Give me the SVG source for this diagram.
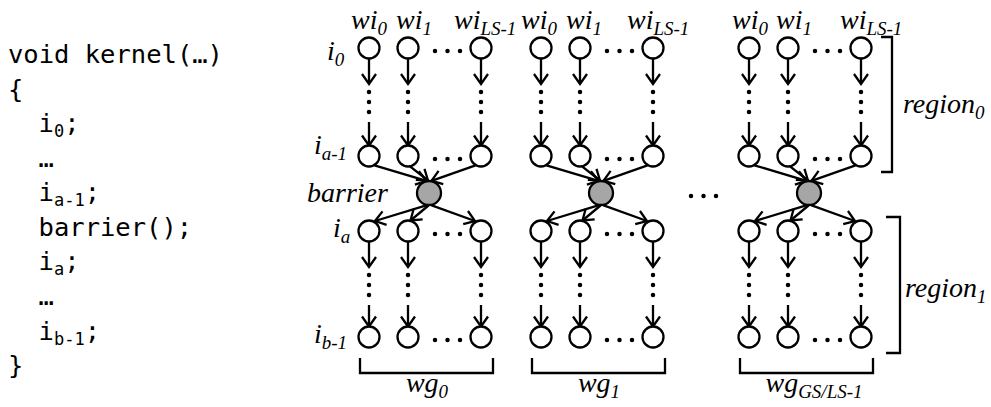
<svg xmlns="http://www.w3.org/2000/svg" width="991" height="407" viewBox="0 0 991 407">
  <style>
    .node circle { fill: #fff; stroke: #000; stroke-width: 2.3; }
    .barrier circle { fill: #a6a6a6; stroke: #000; stroke-width: 2.3; }
    .arrow { stroke: #000; stroke-width: 2.3; fill: none; marker-end: url(#head); }
    .vdots { stroke: #000; stroke-width: 4.5; stroke-linecap: round; stroke-dasharray: 0 10; }
    .hdots { stroke: #000; stroke-width: 4.5; stroke-linecap: round; stroke-dasharray: 0 12.5; }
    .bracket { stroke: #000; stroke-width: 2.3; fill: none; }
    .lbl { font-family: "Liberation Serif", "Times New Roman", serif; font-style: italic; font-size: 28px; fill: #000; }
    .sub { font-size: 19px; }
    .code { font-family: "DejaVu Sans Mono", "Liberation Mono", monospace; font-size: 25.5px; fill: #000; }
    .csub { font-size: 17px; }
  </style>
  <defs>
    <marker id="head" markerUnits="userSpaceOnUse" viewBox="-13 -9 15 18" markerWidth="15" markerHeight="18" refX="0" refY="0" orient="auto" overflow="visible">
      <path d="M-10,-7 L0,0 L-10,7" fill="none" stroke="#000" stroke-width="2.3"/>
    </marker>
  </defs>

  <!-- kernel source -->
  <g id="code">
    <text class="code" x="8" y="63">void kernel(…)</text>
    <text class="code" x="8" y="97.6">{</text>
    <text class="code" x="38.6" y="132">i<tspan class="csub" dy="5">0</tspan><tspan dy="-5">;</tspan></text>
    <text class="code" x="38.6" y="167">…</text>
    <text class="code" x="38.6" y="201">i<tspan class="csub" dy="5">a-1</tspan><tspan dy="-5">;</tspan></text>
    <text class="code" x="38.6" y="236">barrier();</text>
    <text class="code" x="38.6" y="270">i<tspan class="csub" dy="5">a</tspan><tspan dy="-5">;</tspan></text>
    <text class="code" x="38.6" y="305">…</text>
    <text class="code" x="38.6" y="340">i<tspan class="csub" dy="5">b-1</tspan><tspan dy="-5">;</tspan></text>
    <text class="code" x="8" y="374">}</text>
  </g>

  <!-- connectors -->
  <g id="connectors">
    <!-- vertical instruction chains, one per work item -->
    <g id="chains">
      <line class="arrow" x1="369" y1="58.5" x2="369" y2="84"/><line class="vdots" x1="369" y1="92" x2="369" y2="113"/><line class="arrow" x1="369" y1="122" x2="369" y2="145.5"/>
      <line class="arrow" x1="408" y1="58.5" x2="408" y2="84"/><line class="vdots" x1="408" y1="92" x2="408" y2="113"/><line class="arrow" x1="408" y1="122" x2="408" y2="145.5"/>
      <line class="arrow" x1="481" y1="58.5" x2="481" y2="84"/><line class="vdots" x1="481" y1="92" x2="481" y2="113"/><line class="arrow" x1="481" y1="122" x2="481" y2="145.5"/>
      <line class="arrow" x1="541" y1="58.5" x2="541" y2="84"/><line class="vdots" x1="541" y1="92" x2="541" y2="113"/><line class="arrow" x1="541" y1="122" x2="541" y2="145.5"/>
      <line class="arrow" x1="580" y1="58.5" x2="580" y2="84"/><line class="vdots" x1="580" y1="92" x2="580" y2="113"/><line class="arrow" x1="580" y1="122" x2="580" y2="145.5"/>
      <line class="arrow" x1="653" y1="58.5" x2="653" y2="84"/><line class="vdots" x1="653" y1="92" x2="653" y2="113"/><line class="arrow" x1="653" y1="122" x2="653" y2="145.5"/>
      <line class="arrow" x1="749" y1="58.5" x2="749" y2="84"/><line class="vdots" x1="749" y1="92" x2="749" y2="113"/><line class="arrow" x1="749" y1="122" x2="749" y2="145.5"/>
      <line class="arrow" x1="788" y1="58.5" x2="788" y2="84"/><line class="vdots" x1="788" y1="92" x2="788" y2="113"/><line class="arrow" x1="788" y1="122" x2="788" y2="145.5"/>
      <line class="arrow" x1="861" y1="58.5" x2="861" y2="84"/><line class="vdots" x1="861" y1="92" x2="861" y2="113"/><line class="arrow" x1="861" y1="122" x2="861" y2="145.5"/>

      <line class="arrow" x1="369" y1="241.5" x2="369" y2="267"/><line class="vdots" x1="369" y1="275" x2="369" y2="296"/><line class="arrow" x1="369" y1="305" x2="369" y2="326.5"/>
      <line class="arrow" x1="408" y1="241.5" x2="408" y2="267"/><line class="vdots" x1="408" y1="275" x2="408" y2="296"/><line class="arrow" x1="408" y1="305" x2="408" y2="326.5"/>
      <line class="arrow" x1="481" y1="241.5" x2="481" y2="267"/><line class="vdots" x1="481" y1="275" x2="481" y2="296"/><line class="arrow" x1="481" y1="305" x2="481" y2="326.5"/>
      <line class="arrow" x1="541" y1="241.5" x2="541" y2="267"/><line class="vdots" x1="541" y1="275" x2="541" y2="296"/><line class="arrow" x1="541" y1="305" x2="541" y2="326.5"/>
      <line class="arrow" x1="580" y1="241.5" x2="580" y2="267"/><line class="vdots" x1="580" y1="275" x2="580" y2="296"/><line class="arrow" x1="580" y1="305" x2="580" y2="326.5"/>
      <line class="arrow" x1="653" y1="241.5" x2="653" y2="267"/><line class="vdots" x1="653" y1="275" x2="653" y2="296"/><line class="arrow" x1="653" y1="305" x2="653" y2="326.5"/>
      <line class="arrow" x1="749" y1="241.5" x2="749" y2="267"/><line class="vdots" x1="749" y1="275" x2="749" y2="296"/><line class="arrow" x1="749" y1="305" x2="749" y2="326.5"/>
      <line class="arrow" x1="788" y1="241.5" x2="788" y2="267"/><line class="vdots" x1="788" y1="275" x2="788" y2="296"/><line class="arrow" x1="788" y1="305" x2="788" y2="326.5"/>
      <line class="arrow" x1="861" y1="241.5" x2="861" y2="267"/><line class="vdots" x1="861" y1="275" x2="861" y2="296"/><line class="arrow" x1="861" y1="305" x2="861" y2="326.5"/>
    </g>
    <!-- fan-in to and fan-out from each barrier -->
    <g id="barrier-edges">
      <line class="arrow" x1="374.5" y1="165.3" x2="426.5" y2="180.8"/>
      <line class="arrow" x1="410" y1="166.3" x2="428" y2="180.5"/>
      <line class="arrow" x1="475.5" y1="165.3" x2="431.5" y2="180.8"/>
      <line class="arrow" x1="427" y1="205.2" x2="375" y2="221"/>
      <line class="arrow" x1="428.5" y1="205.5" x2="410.5" y2="220.5"/>
      <line class="arrow" x1="431" y1="205.2" x2="475" y2="221"/>

      <line class="arrow" x1="546.5" y1="165.3" x2="598.5" y2="180.8"/>
      <line class="arrow" x1="582" y1="166.3" x2="600" y2="180.5"/>
      <line class="arrow" x1="647.5" y1="165.3" x2="603.5" y2="180.8"/>
      <line class="arrow" x1="599" y1="205.2" x2="547" y2="221"/>
      <line class="arrow" x1="600.5" y1="205.5" x2="582.5" y2="220.5"/>
      <line class="arrow" x1="603" y1="205.2" x2="647" y2="221"/>

      <line class="arrow" x1="754.5" y1="165.3" x2="806.5" y2="180.8"/>
      <line class="arrow" x1="790" y1="166.3" x2="808" y2="180.5"/>
      <line class="arrow" x1="855.5" y1="165.3" x2="811.5" y2="180.8"/>
      <line class="arrow" x1="807" y1="205.2" x2="755" y2="221"/>
      <line class="arrow" x1="808.5" y1="205.5" x2="790.5" y2="220.5"/>
      <line class="arrow" x1="811" y1="205.2" x2="855" y2="221"/>
    </g>
  </g>

  <!-- elided work items and work groups -->
  <g id="ellipses">
    <line class="hdots" x1="435" y1="51" x2="461" y2="51"/><line class="hdots" x1="435" y1="159" x2="461" y2="159"/>
    <line class="hdots" x1="435" y1="234" x2="461" y2="234"/><line class="hdots" x1="435" y1="340" x2="461" y2="340"/>
    <line class="hdots" x1="607" y1="51" x2="633" y2="51"/><line class="hdots" x1="607" y1="159" x2="633" y2="159"/>
    <line class="hdots" x1="607" y1="234" x2="633" y2="234"/><line class="hdots" x1="607" y1="340" x2="633" y2="340"/>
    <line class="hdots" x1="815" y1="51" x2="841" y2="51"/><line class="hdots" x1="815" y1="159" x2="841" y2="159"/>
    <line class="hdots" x1="815" y1="234" x2="841" y2="234"/><line class="hdots" x1="815" y1="340" x2="841" y2="340"/>
    <line class="hdots" x1="691" y1="196" x2="717" y2="196"/>
  </g>

  <!-- work-item nodes: wg0 -->
  <g id="wg0-wi0-i0" class="node"><circle cx="369" cy="48" r="10.5"/></g>
  <g id="wg0-wi1-i0" class="node"><circle cx="408" cy="48" r="10.5"/></g>
  <g id="wg0-wiLS-i0" class="node"><circle cx="481" cy="48" r="10.5"/></g>
  <g id="wg0-wi0-ia1" class="node"><circle cx="369" cy="156" r="10.5"/></g>
  <g id="wg0-wi1-ia1" class="node"><circle cx="408" cy="156" r="10.5"/></g>
  <g id="wg0-wiLS-ia1" class="node"><circle cx="481" cy="156" r="10.5"/></g>
  <g id="wg0-barrier" class="barrier"><circle cx="429" cy="193" r="12"/></g>
  <g id="wg0-wi0-ia" class="node"><circle cx="369" cy="231" r="10.5"/></g>
  <g id="wg0-wi1-ia" class="node"><circle cx="408" cy="231" r="10.5"/></g>
  <g id="wg0-wiLS-ia" class="node"><circle cx="481" cy="231" r="10.5"/></g>
  <g id="wg0-wi0-ib1" class="node"><circle cx="369" cy="337" r="10.5"/></g>
  <g id="wg0-wi1-ib1" class="node"><circle cx="408" cy="337" r="10.5"/></g>
  <g id="wg0-wiLS-ib1" class="node"><circle cx="481" cy="337" r="10.5"/></g>

  <!-- wg1 -->
  <g id="wg1-wi0-i0" class="node"><circle cx="541" cy="48" r="10.5"/></g>
  <g id="wg1-wi1-i0" class="node"><circle cx="580" cy="48" r="10.5"/></g>
  <g id="wg1-wiLS-i0" class="node"><circle cx="653" cy="48" r="10.5"/></g>
  <g id="wg1-wi0-ia1" class="node"><circle cx="541" cy="156" r="10.5"/></g>
  <g id="wg1-wi1-ia1" class="node"><circle cx="580" cy="156" r="10.5"/></g>
  <g id="wg1-wiLS-ia1" class="node"><circle cx="653" cy="156" r="10.5"/></g>
  <g id="wg1-barrier" class="barrier"><circle cx="601" cy="193" r="12"/></g>
  <g id="wg1-wi0-ia" class="node"><circle cx="541" cy="231" r="10.5"/></g>
  <g id="wg1-wi1-ia" class="node"><circle cx="580" cy="231" r="10.5"/></g>
  <g id="wg1-wiLS-ia" class="node"><circle cx="653" cy="231" r="10.5"/></g>
  <g id="wg1-wi0-ib1" class="node"><circle cx="541" cy="337" r="10.5"/></g>
  <g id="wg1-wi1-ib1" class="node"><circle cx="580" cy="337" r="10.5"/></g>
  <g id="wg1-wiLS-ib1" class="node"><circle cx="653" cy="337" r="10.5"/></g>

  <!-- wg GS/LS-1 -->
  <g id="wgN-wi0-i0" class="node"><circle cx="749" cy="48" r="10.5"/></g>
  <g id="wgN-wi1-i0" class="node"><circle cx="788" cy="48" r="10.5"/></g>
  <g id="wgN-wiLS-i0" class="node"><circle cx="861" cy="48" r="10.5"/></g>
  <g id="wgN-wi0-ia1" class="node"><circle cx="749" cy="156" r="10.5"/></g>
  <g id="wgN-wi1-ia1" class="node"><circle cx="788" cy="156" r="10.5"/></g>
  <g id="wgN-wiLS-ia1" class="node"><circle cx="861" cy="156" r="10.5"/></g>
  <g id="wgN-barrier" class="barrier"><circle cx="809" cy="193" r="12"/></g>
  <g id="wgN-wi0-ia" class="node"><circle cx="749" cy="231" r="10.5"/></g>
  <g id="wgN-wi1-ia" class="node"><circle cx="788" cy="231" r="10.5"/></g>
  <g id="wgN-wiLS-ia" class="node"><circle cx="861" cy="231" r="10.5"/></g>
  <g id="wgN-wi0-ib1" class="node"><circle cx="749" cy="337" r="10.5"/></g>
  <g id="wgN-wi1-ib1" class="node"><circle cx="788" cy="337" r="10.5"/></g>
  <g id="wgN-wiLS-ib1" class="node"><circle cx="861" cy="337" r="10.5"/></g>

  <!-- brackets -->
  <g id="brackets">
    <path class="bracket" d="M360,358 V373 H493 V358"/>
    <path class="bracket" d="M532,358 V373 H665 V358"/>
    <path class="bracket" d="M740,358 V373 H873 V358"/>
    <path class="bracket" d="M881,37 H892 V172 H881"/>
    <path class="bracket" d="M886,217 H900 V353 H886"/>
  </g>

  <!-- labels -->
  <g id="labels">
    <text class="lbl" x="351" y="29">wi<tspan class="sub" dy="6">0</tspan></text>
    <text class="lbl" x="396" y="29">wi<tspan class="sub" dy="6">1</tspan></text>
    <text class="lbl" x="454" y="29">wi<tspan class="sub" dy="6">LS-1</tspan></text>
    <text class="lbl" x="521" y="29">wi<tspan class="sub" dy="6">0</tspan></text>
    <text class="lbl" x="566" y="29">wi<tspan class="sub" dy="6">1</tspan></text>
    <text class="lbl" x="627" y="29">wi<tspan class="sub" dy="6">LS-1</tspan></text>
    <text class="lbl" x="732" y="29">wi<tspan class="sub" dy="6">0</tspan></text>
    <text class="lbl" x="776" y="29">wi<tspan class="sub" dy="6">1</tspan></text>
    <text class="lbl" x="840" y="29">wi<tspan class="sub" dy="6">LS-1</tspan></text>

    <text class="lbl" x="327" y="60">i<tspan class="sub" dy="6">0</tspan></text>
    <text class="lbl" x="314" y="154">i<tspan class="sub" dy="6">a-1</tspan></text>
    <text class="lbl" x="307" y="202">barrier</text>
    <text class="lbl" x="333" y="237">i<tspan class="sub" dy="6">a</tspan></text>
    <text class="lbl" x="314" y="343">i<tspan class="sub" dy="6">b-1</tspan></text>

    <text class="lbl" x="903" y="113">region<tspan class="sub" dy="6">0</tspan></text>
    <text class="lbl" x="905" y="297">region<tspan class="sub" dy="6">1</tspan></text>

    <text class="lbl" x="427" y="392" text-anchor="middle">wg<tspan class="sub" dy="6">0</tspan></text>
    <text class="lbl" x="599" y="392" text-anchor="middle">wg<tspan class="sub" dy="6">1</tspan></text>
    <text class="lbl" x="814" y="392" text-anchor="middle">wg<tspan class="sub" dy="6">GS/LS-1</tspan></text>
  </g>
</svg>
